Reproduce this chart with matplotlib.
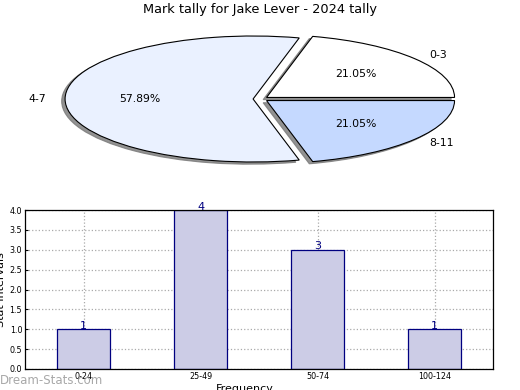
import matplotlib
matplotlib.use("Agg")
import matplotlib.pyplot as plt

title = "Mark tally for Jake Lever - 2024 tally"
pie_labels = ["0-3", "4-7", "8-11"]
pie_values = [4, 11, 4]
pie_colors = ["#FFFFFF", "#EAF1FF", "#C5D9FF"]

bar_categories = ["0-24", "25-49", "50-74", "100-124"]
bar_values = [1, 4, 3, 1]
y_ticks = [0.0, 0.5, 1.0, 1.5, 2.0, 2.5, 3.0, 3.5, 4.0]

fig = plt.figure(figsize=(5.2, 3.9), dpi=100)
fig.patch.set_facecolor("white")
fig.text(0.5, 1 - 10 / 390, title, ha="center", va="center", fontsize=9.3)

# Pie
axp = fig.add_axes([25.6 / 520, 1 - 177.75 / 390, 470 / 520, 157.5 / 390])
wedges, texts, autotexts = axp.pie(
    pie_values, labels=pie_labels, colors=pie_colors, explode=[0.04] * 3,
    autopct="%.2f%%", startangle=0, counterclock=True,
    shadow=dict(ox=-0.013, oy=-0.025, color="#777777", alpha=0.8),
    wedgeprops=dict(edgecolor="black", linewidth=0.8),
    textprops=dict(fontsize=7.8))
axp.set_aspect("auto")
axp.set_xlim(-1.25, 1.25)
axp.set_ylim(-1.25, 1.25)
axp.axis("off")

# Bars
axb = fig.add_axes([25 / 520, 1 - 369 / 390, 468 / 520, 159 / 390])
x = list(range(len(bar_categories)))
bars = axb.bar(x, bar_values, width=0.45, color="#CCCCE6", edgecolor="#000080",
               linewidth=0.9, zorder=2)
for xi, v in zip(x, bar_values):
    axb.annotate(str(v), (xi, v), xytext=(0, -1.2), textcoords="offset points",
                 ha="center", va="bottom", color="#000080", fontsize=8, zorder=3)
axb.set_xlim(-0.5, 3.5)
axb.set_ylim(0, 4)
axb.set_xticks(x)
axb.set_xticklabels(bar_categories)
axb.set_yticks(y_ticks)
axb.set_yticklabels([f"{t:.1f}" for t in y_ticks])
axb.tick_params(labelsize=5.8, length=2, direction="in", pad=2)
axb.grid(True, linestyle=":", color="#AAAAAA", linewidth=0.9, zorder=0)
axb.set_axisbelow(True)
for s in axb.spines.values():
    s.set_linewidth(0.9)

fig.text(1.5 / 520, 1 - 290 / 390, "Stat Intervals", rotation=90,
         ha="center", va="center", fontsize=8)
fig.text(245 / 520, 1 - 389 / 390, "Frequency", ha="center", va="center", fontsize=8)
fig.text(0 / 520, 1 - 380 / 390, "Dream-Stats.com", ha="left", va="center",
         fontsize=8.5, color="#999999", alpha=0.85)

fig.savefig("out.png", dpi=100)
